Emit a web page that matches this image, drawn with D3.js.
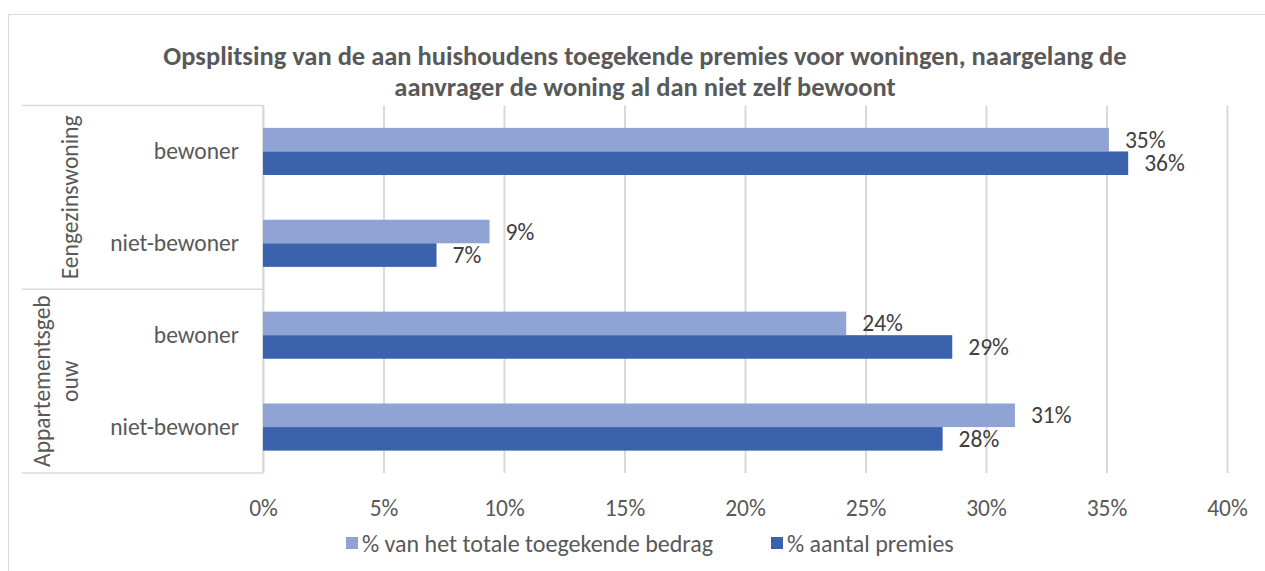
<!DOCTYPE html>
<html>

<head>
    <meta charset="utf-8">
    <script src="https://d3js.org/d3.v7.min.js"></script>
    <style>
        body {
            margin: 0;
            background: #fff;
        }

        text {
            font-family: Carlito, Calibri, Lato, sans-serif;
        }
    </style>
</head>

<body>
    <div id="svg"></div>
    <script>
        // data
        var titleLines = ["Opsplitsing van de aan huishoudens toegekende premies voor woningen, naargelang de",
            "aanvrager de woning al dan niet zelf bewoont"]
        var groups = ["Eengezinswoning", "Appartementsgebouw"]
        var groupLabelLines = [["Eengezinswoning"], ["Appartementsgeb", "ouw"]]
        var rows = ["bewoner", "niet-bewoner"]
        var seriesNames = ["% van het totale toegekende bedrag", "% aantal premies"]
        var bedrag = [0.351, 0.094, 0.242, 0.312]
        var aantal = [0.359, 0.072, 0.286, 0.282]
        var xTicks = [0, 0.05, 0.10, 0.15, 0.20, 0.25, 0.30, 0.35, 0.40]

        var W = 1265, H = 571
        var colors = ["#8FA3D4", "#3B63AD"]
        var grey = "#595959", gridCol = "#D9D9D9"

        var svg = d3.select("#svg")
            .append("svg")
            .attr("width", W)
            .attr("height", H)

        // chart frame
        svg.append("rect")
            .attr("x", 8.5).attr("y", 14.5)
            .attr("width", W + 20).attr("height", H + 20)
            .style("fill", "none").style("stroke", gridCol)

        // title
        svg.selectAll(".title")
            .data(titleLines).enter()
            .append("text")
            .attr("class", "title")
            .attr("x", 645)
            .attr("y", function (d, i) { return 56 + i * 31 })
            .attr("dominant-baseline", "central")
            .attr("text-anchor", "middle")
            .style("font-size", "26.5px")
            .style("font-weight", "bold")
            .style("fill", grey)
            .text(function (d) { return d })

        var plotTop = 105.5, plotBottom = 473, plotLeft = 263, plotRight = 1227

        var rowKeys = []
        groups.forEach(function (g) { rows.forEach(function (r) { rowKeys.push(g + "|" + r) }) })

        var data = rowKeys.map(function (k, i) {
            return { key: k, group: k.split("|")[0], row: k.split("|")[1], values: [bedrag[i], aantal[i]] }
        })

        var x = d3.scaleLinear().domain([0, 0.4]).range([plotLeft, plotRight])
        var y = d3.scaleBand().domain(rowKeys).range([plotTop, plotBottom])
        var bw = y.bandwidth()
        var gw = bw / 1.95
        var ys = d3.scaleBand().domain([0, 1]).range([(bw - gw) / 2, (bw + gw) / 2])

        // gridlines
        svg.append("g")
            .attr("transform", "translate(0," + plotBottom + ")")
            .call(d3.axisBottom(x).tickValues(xTicks).tickSize(-(plotBottom - plotTop)).tickFormat(""))
            .call(function (g) {
                g.select(".domain").remove()
                g.selectAll("line").style("stroke", gridCol).style("stroke-width", 2)
            })

        // tick labels
        svg.append("g")
            .attr("transform", "translate(0," + 508 + ")")
            .call(d3.axisBottom(x).tickValues(xTicks).tickSize(0).tickPadding(0).tickFormat(d3.format(".0%")))
            .call(function (g) {
                g.select(".domain").remove()
                g.selectAll("text")
                    .attr("dy", null).attr("y", 0)
                    .attr("dominant-baseline", "central")
                    .style("font-size", "23.5px")
                    .style("font-family", "Carlito, Calibri, Lato, sans-serif")
                    .style("fill", grey)
            })

        // category axis frame
        var catLines = svg.append("g").style("stroke", gridCol).style("stroke-width", 1.5)
        var groupEdges = [plotTop, y(groups[1] + "|" + rows[0]), plotBottom]
        catLines.selectAll("line.h")
            .data(groupEdges).enter()
            .append("line")
            .attr("x1", 22).attr("x2", plotLeft)
            .attr("y1", function (d) { return d }).attr("y2", function (d) { return d })
        catLines.append("line")
            .attr("x1", plotLeft).attr("x2", plotLeft)
            .attr("y1", plotTop).attr("y2", plotBottom)

        // bars
        var rowG = svg.selectAll(".row")
            .data(data).enter()
            .append("g")
            .attr("class", "row")
            .attr("transform", function (d) { return "translate(0," + y(d.key) + ")" })

        rowG.selectAll("rect")
            .data(function (d) { return d.values }).enter()
            .append("rect")
            .attr("x", x(0))
            .attr("y", function (d, i) { return ys(i) })
            .attr("width", function (d) { return x(d) - x(0) })
            .attr("height", ys.bandwidth())
            .style("fill", function (d, i) { return colors[i] })

        rowG.selectAll(".lbl")
            .data(function (d) { return d.values }).enter()
            .append("text")
            .attr("class", "lbl")
            .attr("x", function (d) { return x(d) + 16 })
            .attr("y", function (d, i) { return ys(i) + ys.bandwidth() / 2 })
            .attr("dominant-baseline", "central")
            .style("font-size", "23.5px")
            .style("fill", "#404040")
            .text(function (d) { return d3.format(".0%")(d) })

        // row labels
        rowG.append("text")
            .attr("x", 239)
            .attr("y", bw / 2)
            .attr("text-anchor", "end")
            .attr("dominant-baseline", "central")
            .style("font-size", "23.5px")
            .style("fill", grey)
            .text(function (d) { return d.row })

        // group labels (rotated)
        groups.forEach(function (g, gi) {
            var y0 = y(g + "|" + rows[0]), y1 = y(g + "|" + rows[1]) + bw
            var lines = groupLabelLines[gi]
            var cx = 70 - (lines.length - 1) * 28
            svg.append("g")
                .attr("transform", "translate(" + cx + "," + ((y0 + y1) / 2) + ") rotate(-90)")
                .selectAll("text")
                .data(lines).enter()
                .append("text")
                .attr("x", 0)
                .attr("y", function (d, i) { return i * 28 })
                .attr("text-anchor", "middle")
                .attr("dominant-baseline", "central")
                .style("font-size", "23.5px")
                .style("fill", grey)
                .text(function (d) { return d })
        })

        // legend
        var legX = [346, 771]
        var leg = svg.selectAll(".leg")
            .data(seriesNames).enter()
            .append("g")
            .attr("class", "leg")
            .attr("transform", function (d, i) { return "translate(" + legX[i] + ",543)" })
        leg.append("rect")
            .attr("x", 0).attr("y", -6)
            .attr("width", 12).attr("height", 12)
            .style("fill", function (d, i) { return colors[i] })
        leg.append("text")
            .attr("x", 16).attr("y", 0)
            .attr("dominant-baseline", "central")
            .style("font-size", "24px")
            .style("fill", grey)
            .text(function (d) { return d })
    </script>
</body>

</html>
